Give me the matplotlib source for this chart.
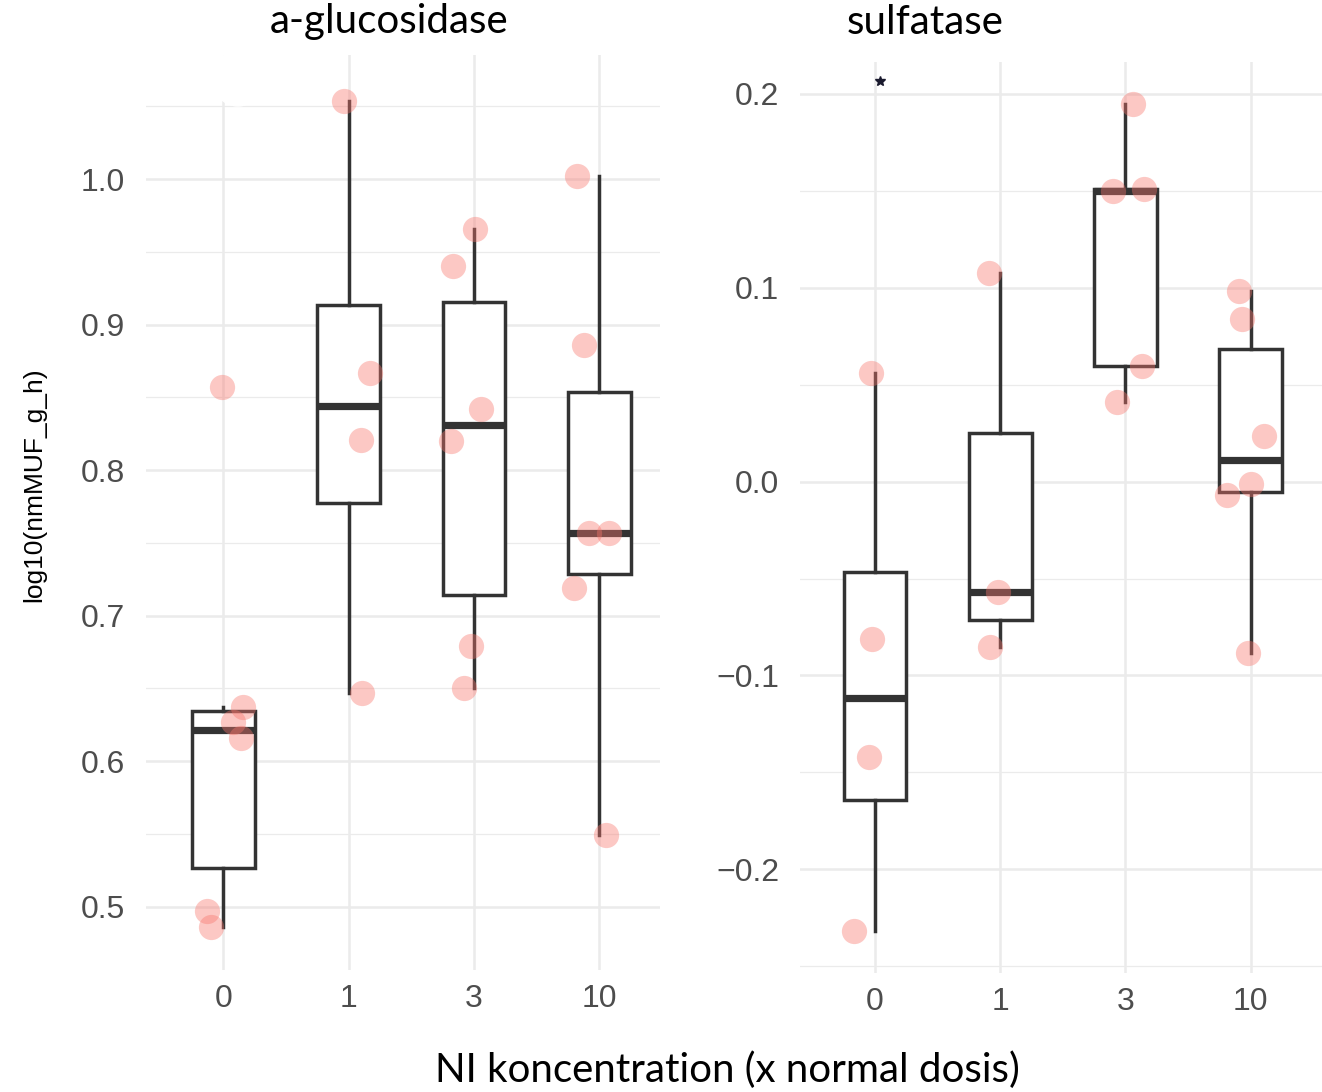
import numpy as np
import matplotlib.pyplot as plt
from matplotlib.patches import Ellipse

W, H = 1322, 1092

doses = ["0", "1", "3", "10"]

# a-glucosidase, log10(nmMUF_g_h) per dose group
gluc_0 = [0.857, 0.637, 0.627, 0.616, 0.497, 0.486]
gluc_1 = [1.054, 0.867, 0.821, 0.647]
gluc_3 = [0.966, 0.940, 0.842, 0.820, 0.679, 0.650]
gluc_10 = [1.002, 0.886, 0.757, 0.757, 0.719, 0.549]
# horizontal jitter (category units)
gluc_jit = [
    [-0.01, 0.16, 0.075, 0.14, -0.13, -0.10],
    [-0.04, 0.17, 0.10, 0.11],
    [0.01, -0.165, 0.06, -0.18, -0.02, -0.08],
    [-0.18, -0.125, -0.08, 0.075, -0.20, 0.055],
]

# sulfatase
sulf_0 = [0.056, -0.081, -0.142, -0.232]
sulf_1 = [0.1075, -0.0568, -0.0855]
sulf_3 = [0.1947, 0.150, 0.151, 0.0596, 0.0412]
sulf_10 = [0.0983, 0.0837, 0.0235, -0.0069, -0.0012, -0.0886]
sulf_jit = [
    [-0.03, -0.02, -0.045, -0.165],
    [-0.09, -0.02, -0.08],
    [0.06, -0.10, 0.145, 0.13, -0.07],
    [-0.09, -0.07, 0.105, -0.19, 0.0, -0.02],
]

star_pos = (0.04, 0.2067)

GRID = "#EBEBEB"
DARK = "#333333"
PT_COL = "#F8766D"


def fig_box(x0, y0, x1, y1):
    # pixel box -> figure fraction [l, b, w, h]
    return [x0 / W, 1 - y1 / H, (x1 - x0) / W, (y1 - y0) / H]


def panel(ax, groups, jits, ylim, xlim, major, minor):
    ax.set_xlim(*xlim)
    ax.set_ylim(*ylim)
    for y in minor:
        ax.axhline(y, color=GRID, lw=0.9, zorder=0)
    for y in major:
        ax.axhline(y, color=GRID, lw=1.8, zorder=0)
    for i in range(len(groups)):
        ax.axvline(i, color=GRID, lw=1.8, zorder=0)
    ax.boxplot(groups, positions=range(len(groups)), widths=0.5, showfliers=False,
               showcaps=False, patch_artist=True, whis=1.5,
               boxprops=dict(facecolor="white", edgecolor=DARK, linewidth=2.5),
               whiskerprops=dict(color=DARK, linewidth=2.5),
               medianprops=dict(color=DARK, linewidth=5.2, solid_capstyle="butt"),
               zorder=2)
    for i, (vals, jit) in enumerate(zip(groups, jits)):
        ax.scatter(np.array(jit) + i, vals, s=330, color=PT_COL, alpha=0.4,
                   linewidths=0, zorder=5)
    ax.set_xticks(range(len(groups)))
    ax.set_xticklabels(doses)
    ax.set_yticks(major)
    for s in ax.spines.values():
        s.set_visible(False)
    ax.tick_params(length=0, labelsize=23, labelcolor="#4D4D4D")
    ax.tick_params(axis="y", pad=15)
    ax.tick_params(axis="x", pad=10)
    for lab in ax.get_xticklabels() + ax.get_yticklabels():
        lab.set_family("Liberation Sans")


fig = plt.figure(figsize=(W / 100, H / 100), dpi=100)

ax1 = fig.add_axes(fig_box(145.7, 54.6, 660, 970))
panel(ax1, [gluc_0, gluc_1, gluc_3, gluc_10], gluc_jit,
      (0.4565, 1.0856), (-0.619, 3.485),
      [0.5, 0.6, 0.7, 0.8, 0.9, 1.0], [0.55, 0.65, 0.75, 0.85, 0.95, 1.05])
ax1.set_yticklabels(["0.5", "0.6", "0.7", "0.8", "0.9", "1.0"])

ax2 = fig.add_axes(fig_box(800, 62, 1322, 973))
panel(ax2, [sulf_0, sulf_1, sulf_3, sulf_10], sulf_jit,
      (-0.2535, 0.2165), (-0.599, 3.57),
      [-0.2, -0.1, 0.0, 0.1, 0.2], [-0.25, -0.15, -0.05, 0.05, 0.15])
ax2.set_yticklabels(["\u22120.2", "\u22120.1", "0.0", "0.1", "0.2"])
ax2.plot(*star_pos, marker="*", color="#1a1a2e", markersize=7, clip_on=False, zorder=6)

# white blot over the top of the left panel
fig.patches.append(Ellipse((238 / W, 1 - 78 / H), 52 / W, 56 / H, color="white",
                           transform=fig.transFigure, zorder=3))

tfont = ["Lato", "DejaVu Sans"]
fig.text(389 / W, 1 - 22 / H, "a-glucosidase", ha="center", va="center",
         fontsize=29, family=tfont)
fig.text(925 / W, 1 - 22 / H, "sulfatase", ha="center", va="center",
         fontsize=29, family=tfont)
fig.text(727 / W, 1 - 1070 / H, "NI koncentration (x normal dosis)", ha="center",
         va="center", fontsize=29, family=tfont)
fig.text(34.5 / W, 1 - 485 / H, "log10(nmMUF_g_h)", ha="center", va="center",
         rotation=90, fontsize=19, family=["Liberation Sans"])

fig.savefig("out.png", dpi=100)
